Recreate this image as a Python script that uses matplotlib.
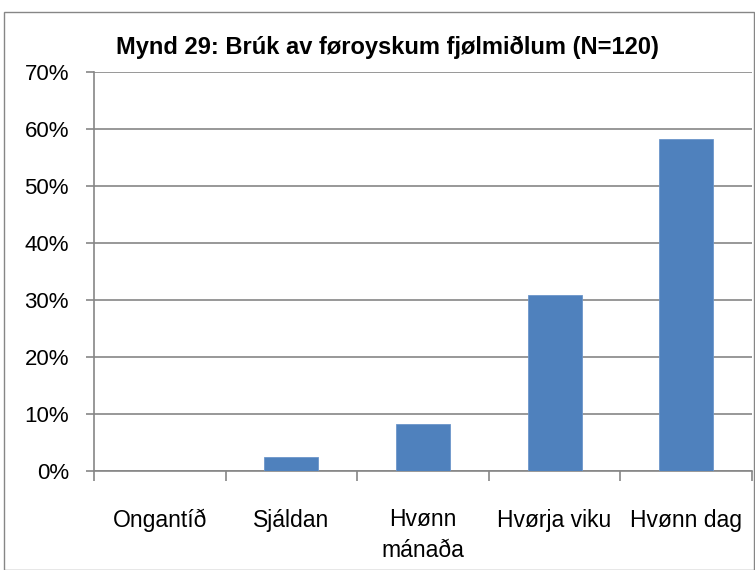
import matplotlib
matplotlib.use("Agg")
import matplotlib.pyplot as plt
from matplotlib.patches import Rectangle
from matplotlib.ticker import FuncFormatter, FixedLocator

categories = ["Ongantíð", "Sjáldan", "Hvønn\nmánaða", "Hvørja viku", "Hvønn dag"]
values = [0.0, 2.5, 8.33, 30.83, 58.33]
yticks = [0, 10, 20, 30, 40, 50, 60, 70]
title = "Mynd 29: Brúk av føroyskum fjølmiðlum (N=120)"

plt.rcParams['font.family'] = ["Liberation Sans", "DejaVu Sans"]

W, H = 755, 570
fig = plt.figure(figsize=(W / 100, H / 100), dpi=100)
fig.patches.append(Rectangle((4 / W, 0.5 / H), (W - 5) / W, (H - 12.5) / H, transform=fig.transFigure,
                             fill=False, edgecolor="#868686", linewidth=1.0))

ax = fig.add_axes([94 / W, 1 - 471 / H, (752 - 94) / W, (471 - 72) / H])
x = list(range(len(categories)))
ax.bar(x, values, width=0.41, color="#4F81BD", edgecolor="#6C96CB", linewidth=0.6, zorder=3)
ax.set_xlim(-0.5, len(categories) - 0.5)
ax.set_ylim(0, 70)
ax.set_yticks(yticks)
ax.yaxis.set_major_formatter(FuncFormatter(lambda v, p: f"{int(v)}%"))
ax.grid(axis="y", color="#868686", linewidth=1.2, zorder=0)
for s in ["top", "right"]:
    ax.spines[s].set_visible(False)
for s in ["left", "bottom"]:
    ax.spines[s].set_color("#868686")
    ax.spines[s].set_linewidth(1.2)
ax.tick_params(axis="y", length=6, color="#868686", width=1.2, labelsize=16, pad=12)
ax.set_xticks(x)
ax.set_xticklabels(categories, fontsize=16.5, linespacing=1.4)
ax.tick_params(axis="x", length=0, pad=27)
ax.xaxis.set_minor_locator(FixedLocator([i + 0.5 for i in range(-1, len(categories))]))
ax.tick_params(axis="x", which="minor", length=7, color="#868686", width=1.2, direction="out")
for lbl in ax.get_xticklabels():
    lbl.set_verticalalignment("top")

fig.text(387 / W, 1 - 47 / H, title, ha="center", va="center", fontsize=17, fontweight="bold")
fig.savefig("out.png", dpi=100)
